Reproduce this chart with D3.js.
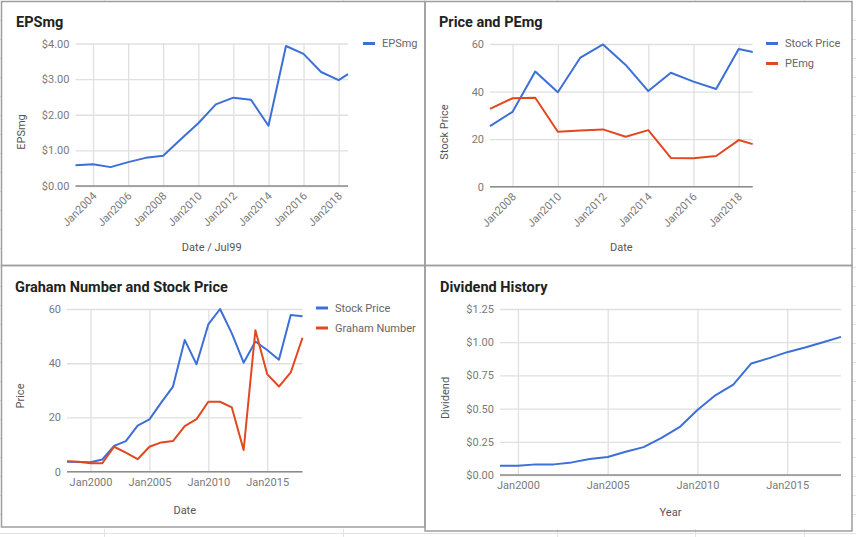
<!DOCTYPE html>
<html><head><meta charset="utf-8">
<script src="https://cdn.jsdelivr.net/npm/d3@7"></script>
<style>
body{margin:0;background:#fff;}
svg{display:block;font-family:Roboto, Arial, sans-serif;}
</style></head><body>
<svg id="c" width="856" height="537"></svg>
<script>
// ---------- DATA ----------
const epsDates = ["2003-01-01","2004-01-01","2005-01-01","2006-01-01","2007-01-01","2008-01-01","2009-01-01","2010-01-01","2011-01-01","2012-01-01","2013-01-01","2014-01-01","2015-01-01","2016-01-01","2017-01-01","2018-01-01","2018-07-15"];
const epsValues = [0.58,0.61,0.53,0.67,0.79,0.85,1.31,1.76,2.29,2.48,2.42,1.69,3.93,3.71,3.2,2.97,3.14];
const epsXTicks = ["2004-01-01","2006-01-01","2008-01-01","2010-01-01","2012-01-01","2014-01-01","2016-01-01","2018-01-01"];
const epsYTicks = [0,1,2,3,4];

const pxDates = ["2007-01-01","2008-01-01","2009-01-01","2010-01-01","2011-01-01","2012-01-01","2013-01-01","2014-01-01","2015-01-01","2016-01-01","2017-01-01","2018-01-01","2018-08-15"];
const pxStockPrice = [25.5,31.5,48.4,39.7,54.3,59.8,51.2,40.2,47.9,44.2,41.1,57.9,56.6];
const pxPEmg = [32.7,37.2,37.4,23.1,23.6,24.1,21.0,23.8,12.1,12.0,12.9,19.6,17.9];
const pxXTicks = ["2008-01-01","2010-01-01","2012-01-01","2014-01-01","2016-01-01","2018-01-01"];
const pxYTicks = [0,20,40,60];

const grDates = ["1998-01-01","1999-01-01","2000-01-01","2001-01-01","2002-01-01","2003-01-01","2004-01-01","2005-01-01","2006-01-01","2007-01-01","2008-01-01","2009-01-01","2010-01-01","2011-01-01","2012-01-01","2013-01-01","2014-01-01","2015-01-01","2016-01-01","2017-01-01","2018-01-01"];
const grStockPrice = [3.7,3.6,3.5,4.5,9.5,11.3,17.0,19.3,25.5,31.4,48.6,39.6,54.3,60,51,40.2,48,44.9,41.3,57.8,57.3];
const grGraham = [3.9,3.7,3.1,3.1,9.2,7.0,4.6,9.2,10.8,11.3,16.8,19.4,25.8,25.8,23.7,8.0,52.2,36.0,31.4,36.6,49.4];
const grXTicks = ["2000-01-01","2005-01-01","2010-01-01","2015-01-01"];
const grYTicks = [0,20,40,60];

const dvDates = ["1999-01-01","2000-01-01","2001-01-01","2002-01-01","2003-01-01","2004-01-01","2005-01-01","2006-01-01","2007-01-01","2008-01-01","2009-01-01","2010-01-01","2011-01-01","2012-01-01","2013-01-01","2014-01-01","2015-01-01","2016-01-01","2017-01-01","2018-01-01"];
const dvValues = [0.07,0.07,0.08,0.08,0.095,0.12,0.135,0.175,0.21,0.28,0.36,0.49,0.6,0.68,0.84,0.88,0.925,0.96,1.0,1.04];
const dvXTicks = ["2000-01-01","2005-01-01","2010-01-01","2015-01-01"];
const dvYTicks = [0,0.25,0.5,0.75,1.0,1.25];

const BLUE = "#3c6fd8", RED = "#e2481f";
// ---------- DRAW ----------
const parse = d3.timeParse("%Y-%m-%d");
const svg = d3.select("#c");
svg.append("rect").attr("width",856).attr("height",537).attr("fill","#fff");

// spreadsheet background lines
const bg = svg.append("g").attr("stroke","#e3e3e3").attr("stroke-width",1);
[104,343,557,695,804].forEach(x=>{ bg.append("line").attr("x1",x+0.5).attr("x2",x+0.5).attr("y1",0).attr("y2",1.5); bg.append("line").attr("x1",x+0.5).attr("x2",x+0.5).attr("y1",529).attr("y2",537);});
bg.append("line").attr("x1",0).attr("x2",856).attr("y1",533.5).attr("y2",533.5);
for(let yy=20; yy<530; yy+=19){ bg.append("line").attr("x1",852).attr("x2",856).attr("y1",yy+0.5).attr("y2",yy+0.5); bg.append("line").attr("x1",0).attr("x2",1).attr("y1",yy+0.5).attr("y2",yy+0.5);}

// panel borders
const bd = svg.append("g").attr("stroke","#9e9e9e").attr("stroke-width",1.5).attr("fill","none");
bd.append("rect").attr("x",1.5).attr("y",1.5).attr("width",423.5).attr("height",264);
bd.append("rect").attr("x",425).attr("y",1.5).attr("width",427).attr("height",264);
bd.append("rect").attr("x",1.5).attr("y",265.5).attr("width",423.5).attr("height",261.5);
bd.append("rect").attr("x",425).attr("y",265.5).attr("width",427).attr("height",265.5);

function drawChart(cfg){
  const g = svg.append("g");
  const x = d3.scaleTime().domain(cfg.xDomain.map(parse)).range(cfg.xRange);
  const y = d3.scaleLinear().domain(cfg.yDomain).range(cfg.yRange);
  const [x0,x1] = cfg.xRange, [yb,yt] = cfg.yRange;
  // y axis + gridlines
  const ya = g.append("g").attr("transform",`translate(${x0},0)`)
    .call(d3.axisLeft(y).tickValues(cfg.yTicks).tickSize(-(x1-x0)).tickPadding(6).tickFormat(cfg.yFmt));
  ya.select(".domain").remove();
  ya.selectAll(".tick line").attr("stroke","#e0e0e0").attr("stroke-width",1.3);
  ya.selectAll(".tick text").attr("fill","#7a7a7a").attr("font-size",11).attr("font-family","Roboto, Arial, sans-serif");
  // x axis + gridlines
  const xa = g.append("g").attr("transform",`translate(0,${yb})`)
    .call(d3.axisBottom(x).tickValues(cfg.xTicks.map(parse)).tickSize(-(yb-yt)).tickPadding(6).tickFormat(d3.timeFormat("%b%Y")));
  xa.select(".domain").remove();
  xa.selectAll(".tick line").attr("stroke","#e0e0e0").attr("stroke-width",1.3);
  const xt = xa.selectAll(".tick text").attr("fill","#7a7a7a").attr("font-size",11).attr("font-family","Roboto, Arial, sans-serif");
  if(cfg.rotate){
    xt.attr("text-anchor","end").attr("y",0).attr("dy","0.35em").attr("transform","translate(1,8) rotate(-45)");
  } else {
    xt.attr("y",0).attr("dy",14);
  }
  // baseline
  g.append("line").attr("x1",x0).attr("x2",x1).attr("y1",y(0)).attr("y2",y(0)).attr("stroke","#8c8c8c").attr("stroke-width",1.6);
  // series
  cfg.series.forEach(s=>{
    const pts = cfg.dates.map((d,i)=>[parse(d), s.values[i]]);
    g.append("path").datum(pts).attr("fill","none").attr("stroke",s.color).attr("stroke-width",2)
      .attr("stroke-linejoin","round")
      .attr("d", d3.line().x(d=>x(d[0])).y(d=>y(d[1])));
  });
  // title
  g.append("text").attr("x",cfg.title[1]).attr("y",cfg.title[2]).text(cfg.title[0])
    .attr("font-size",14.5).attr("font-weight","bold").attr("fill","#222");
  // axis titles
  g.append("text").attr("x",(x0+x1)/2).attr("y",cfg.xTitle[1]).attr("text-anchor","middle").text(cfg.xTitle[0])
    .attr("font-size",11).attr("fill","#555");
  g.append("text").attr("transform",`translate(${cfg.yTitle[1]},${cfg.yTitle[2]}) rotate(-90)`).attr("text-anchor","middle").text(cfg.yTitle[0])
    .attr("font-size",11).attr("fill","#555");
  // legend
  if(cfg.legend){
    cfg.series.forEach((s,i)=>{
      const ly = cfg.legend[1] + i*20;
      g.append("line").attr("x1",cfg.legend[0]).attr("x2",cfg.legend[0]+12).attr("y1",ly).attr("y2",ly).attr("stroke",s.color).attr("stroke-width",3);
      g.append("text").attr("x",cfg.legend[0]+19).attr("y",ly).attr("dy","0.35em").text(s.name).attr("font-size",11).attr("fill","#666");
    });
  }
}

const dollar = d3.format("$.2f");
drawChart({
  xDomain:["2003-01-01","2018-07-15"], xRange:[75.5,348], yDomain:[0,4], yRange:[186,43.5],
  xTicks:epsXTicks, yTicks:epsYTicks, yFmt:dollar, rotate:true, dates:epsDates,
  series:[{name:"EPSmg", values:epsValues, color:BLUE}],
  title:["EPSmg",16,27], xTitle:["Date / Jul99",251], yTitle:["EPSmg",25,132], legend:[363,43.5]
});
drawChart({
  xDomain:["2007-01-01","2018-08-15"], xRange:[490,752.7], yDomain:[0,60], yRange:[186.7,44],
  xTicks:pxXTicks, yTicks:pxYTicks, yFmt:d3.format("d"), rotate:true, dates:pxDates,
  series:[{name:"Stock Price", values:pxStockPrice, color:BLUE},{name:"PEmg", values:pxPEmg, color:RED}],
  title:["Price and PEmg",439,27], xTitle:["Date",251], yTitle:["Stock Price",448,132], legend:[766,43.5]
});
drawChart({
  xDomain:["1998-01-01","2018-01-01"], xRange:[67,302.5], yDomain:[0,60], yRange:[471.7,309],
  xTicks:grXTicks, yTicks:grYTicks, yFmt:d3.format("d"), rotate:false, dates:grDates,
  series:[{name:"Stock Price", values:grStockPrice, color:BLUE},{name:"Graham Number", values:grGraham, color:RED}],
  title:["Graham Number and Stock Price",15,292], xTitle:["Date",514], yTitle:["Price",24,396], legend:[316,308]
});
drawChart({
  xDomain:["1999-01-01","2018-01-01"], xRange:[500,841], yDomain:[0,1.25], yRange:[475,309],
  xTicks:dvXTicks, yTicks:dvYTicks, yFmt:dollar, rotate:false, dates:dvDates,
  series:[{name:"Dividend", values:dvValues, color:BLUE}],
  title:["Dividend History",440,292], xTitle:["Year",516], yTitle:["Dividend",448.5,398], legend:null
});
</script>
</body></html>
